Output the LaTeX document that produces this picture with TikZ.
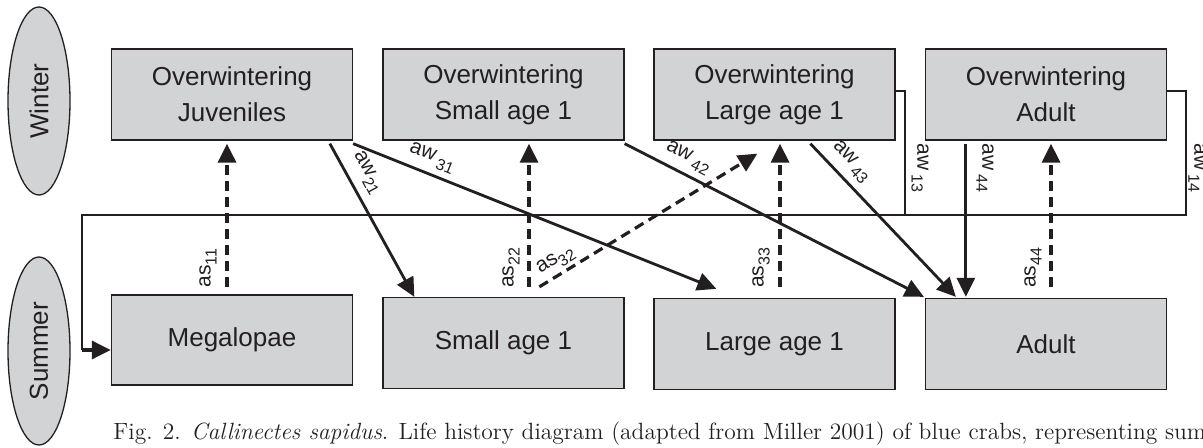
\documentclass[tikz,border=0pt]{standalone}
\usepackage{fontspec}
\setsansfont{Liberation Sans}
\usetikzlibrary{arrows.meta,calc,shapes.geometric}
\definecolor{boxfill}{HTML}{D2D3D5}
\definecolor{ink}{HTML}{231F20}
\newcommand\lsub[1]{\raisebox{-0.28em}{\fontsize{8}{8}\selectfont #1}}
\begin{document}
\begin{tikzpicture}[x=0.5pt,y=-0.5pt,
  stage/.style={draw=ink, line width=0.65pt, fill=boxfill, minimum width=120.5pt, minimum height=45.5pt, inner sep=0pt, align=center, font=\sffamily\fontsize{13}{18}\selectfont, text=ink},
  season/.style={ellipse, draw=ink, line width=0.65pt, fill=boxfill, minimum width=94pt, minimum height=31pt, inner sep=0pt, rotate=90, font=\sffamily\fontsize{13}{16}\selectfont, text=ink},
  solidarrow/.style={draw=ink, line width=1.4pt, -{Triangle[length=9.5pt,width=9pt]}},
  dasharrow/.style={draw=ink, line width=1.6pt, dash pattern=on 5pt off 3pt, -{Triangle[length=9.5pt,width=9pt]}},
  loopline/.style={draw=ink, line width=0.8pt},
  lab/.style={font=\sffamily\fontsize{10.5}{12}\selectfont, text=ink, inner sep=0pt},
]
\useasboundingbox (0,0) rectangle (1203,448);

% seasons
\node[season] (winter) at (39,101) {Winter};
\node[season] (summer) at (39,351) {Summer};

% winter stages
\node[stage] (ow1) at (232,94.5) {Overwintering\\Juveniles};
\node[stage] (ow2) at (503.5,94.5) {Overwintering\\Small age 1};
\node[stage] (ow3) at (774.5,94.5) {Overwintering\\Large age 1};
\node[stage] (ow4) at (1046,94.5) {Overwintering\\Adult};

% summer stages
\node[stage, minimum height=45pt] (s1) at (232,340) {Megalopae};
\node[stage] (s2) at (503.5,343) {Small age 1};
\node[stage] (s3) at (774.5,344) {Large age 1};
\node[stage] (s4) at (1046,344) {Adult};

% reproduction loop
\coordinate (jR) at (1186,215);
\coordinate (jM) at (905,215);
\coordinate (jL) at (82,215);
\coordinate (jB) at (82,350);
\draw[loopline] ($(ow4.east)+(0,-3.5)$) -| (jR) -- (jL) -- (jB);
\draw[loopline] ($(ow3.east)+(0,-3.5)$) -| (jM);
\draw[solidarrow, line width=1.6pt] (jB) -- ($(s1.west)+(0,10)$);

% summer -> winter (dashed)
\draw[dasharrow] ($(s1.north)+(-5,-7)$) -- ($(ow1.south)+(-5,3)$);
\draw[dasharrow] ($(s2.north)+(25.5,-10)$) -- ($(ow2.south)+(25.5,3)$);
\draw[dasharrow] ($(s3.north)+(5.5,-11)$) -- ($(ow3.south)+(5.5,3)$);
\draw[dasharrow] ($(s4.north)+(5,-11)$) -- ($(ow4.south)+(5,3)$);
\draw[dasharrow] ($(s2.north west)+(157,-10)$) -- ($(ow3.south west)+(104,13)$);

% winter -> summer (solid)
\draw[solidarrow] ($(ow1.south west)+(219,3)$) -- ($(s2.north west)+(32,0)$);
\draw[solidarrow] ($(ow1.south east)+(0,3)$) -- ($(s3.north west)+(63,-9)$);
\draw[solidarrow] ($(ow2.south east)+(0,3)$) -- ($(s4.north west)+(-1,-1)$);
\draw[solidarrow] ($(ow3.south west)+(157,3)$) -- ($(s4.north west)+(31,-1)$);
\draw[solidarrow] ($(ow4.south west)+(41,3)$) -- ($(s4.north west)+(41,-1)$);

% labels
\node[lab, rotate=-61.5] (l21) at (367,173) {aw\lsub{21}};
\node[lab, rotate=-22] (l31) at (432,158) {aw\,\lsub{31}};
\node[lab, rotate=-27] (l42) at (688,158) {aw\,\lsub{42}};
\node[lab, rotate=-47] (l43) at (851,162) {aw\,\lsub{43}};
\node[lab, rotate=-90] (l13) at (920,168) {aw\,\lsub{13}};
\node[lab, rotate=-90] (l44) at (985,168) {aw\,\lsub{44}};
\node[lab, rotate=-90] (l14) at (1197,168) {aw\,\lsub{14}};
\node[lab, rotate=90] (a11) at (208,268) {as\lsub{11}};
\node[lab, rotate=90] (a22) at (511,268) {as\lsub{22}};
\node[lab, rotate=32] (a32) at (556,261) {as\lsub{32}};
\node[lab, rotate=90] (a33) at (761,268) {as\lsub{33}};
\node[lab, rotate=90] (a44) at (1033,268) {as\lsub{44}};

% caption
\node[anchor=base west, inner sep=0pt, font=\rmfamily\fontsize{11.75}{13}\selectfont, text=ink] (caption) at (113,439)
  {Fig. 2. \textit{Callinectes sapidus}. Life history diagram (adapted from Miller 2001) of blue crabs, representing sum};
\end{tikzpicture}
\end{document}
